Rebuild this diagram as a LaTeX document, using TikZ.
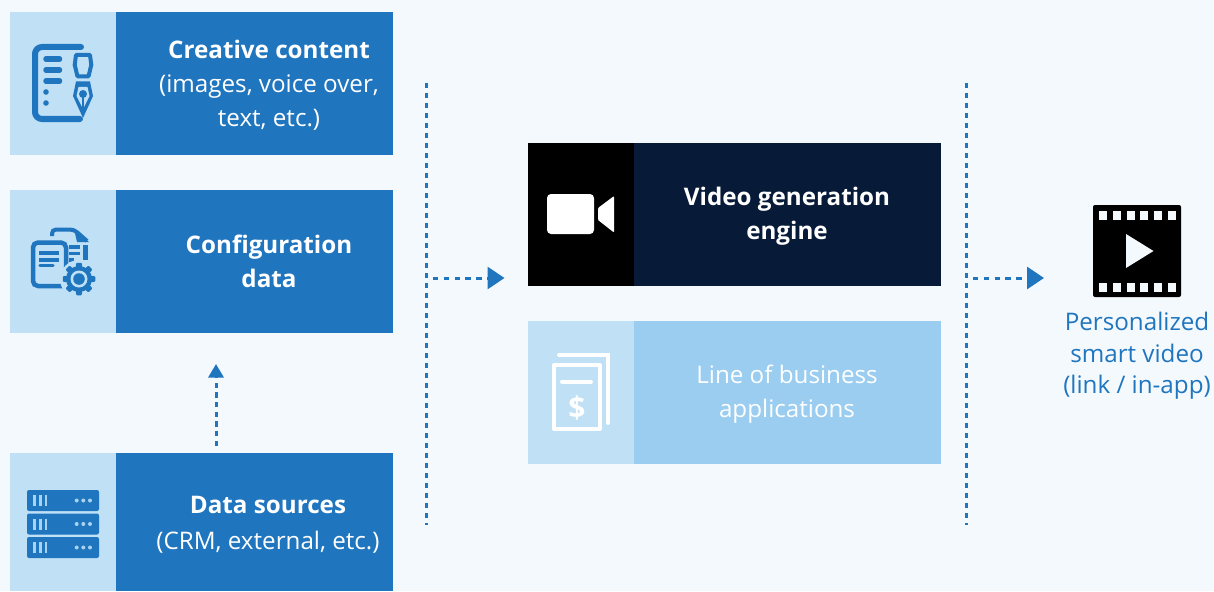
\documentclass[tikz,border=0pt]{standalone}
\usepackage{fontspec}
\setmainfont{Open Sans}
\usetikzlibrary{arrows.meta,calc}
\definecolor{pagebg}{HTML}{F4F9FE}
\definecolor{mainblue}{HTML}{1F75BE}
\definecolor{paleblue}{HTML}{C0E0F6}
\definecolor{midblue}{HTML}{9ACDF0}
\definecolor{navy}{HTML}{071A38}
\definecolor{rackline}{HTML}{A8D3F0}
\tikzset{
  panel/.style={anchor=north west,inner sep=0pt,outer sep=0pt},
  label/.style={align=center,font=\fontsize{24.2}{34}\selectfont,inner sep=0pt,text=white},
  dotline/.style={mainblue,line width=3pt,dash pattern=on 5.2pt off 4.8pt},
  dotarrow/.style={mainblue,line width=3pt,dash pattern=on 5.4pt off 5.4pt,-{Triangle[length=17pt,width=22pt]}},
  dotarrowsmall/.style={mainblue,line width=3pt,dash pattern=on 5.2pt off 4.5pt,-{Triangle[length=13.5pt,width=15pt]}},
  stroke/.style={mainblue,line width=5.5pt,line cap=round},
  whitestroke/.style={white,line width=4pt,line cap=round},
}
\newcommand{\panelpair}[7]{%
  \node[panel,fill=#5,minimum width=106pt,minimum height=#4pt] (#1a) at (#2,#3) {};
  \node[panel,fill=#6,minimum width=#7pt,minimum height=#4pt] (#1b) at (#1a.north east) {};
}
\begin{document}
\begin{tikzpicture}[x=1pt,y=-1pt]
\useasboundingbox (0,0) rectangle (1214,591);
\fill[pagebg] (0,0) rectangle (1214,591);

\panelpair{cc}{10}{12}{143}{paleblue}{mainblue}{277}
\panelpair{cf}{10}{190}{143}{paleblue}{mainblue}{277}
\panelpair{ds}{10}{453}{138}{paleblue}{mainblue}{277}
\panelpair{vg}{528}{143}{143}{black}{navy}{307}
\panelpair{lb}{528}{321}{143}{paleblue}{midblue}{307}

% labels
\node[label] (cct) at (269,85) {\textbf{Creative content}\\(images, voice over,\\text, etc.)};
\node[label] (cft) at (269,261) {\textbf{Configuration}\\\textbf{data}};
\node[label] (dst) at (268,525) {\textbf{Data sources}\\[2pt](CRM, external, etc.)};
\node[label] (vgt) at (787,216.5) {\textbf{Video generation}\\\textbf{engine}};
\node[label] (lbt) at (787,394.5) {Line of business\\applications};
\node[label,text=mainblue,font=\fontsize{24.2}{31.5}\selectfont] (pv) at (1137,356) {Personalized\\smart video\\(link / in-app)};

% connectors
\coordinate (v1t) at (426.5,83);
\coordinate (v1b) at (426.5,525);
\coordinate (v2t) at (966.5,83);
\coordinate (v2b) at (966.5,525);
\coordinate (a1s) at (433,278);
\coordinate (a1e) at (504.5,278);
\coordinate (a2s) at (973,278);
\coordinate (a2e) at (1044,278);
\coordinate (a3s) at (216,446);
\coordinate (a3e) at (216,364);
\draw[dotline] (v1t) -- (v1b);
\draw[dotline] (v2t) -- (v2b);
\draw[dotarrow] (a1s) -- (a1e);
\draw[dotarrow] (a2s) -- (a2e);
\draw[dotarrowsmall] (a3s) -- (a3e);

% icon: document and pen
\draw[mainblue,line width=6pt,line cap=round,rounded corners=7pt] (81,47) -- (35,47) -- (35,119) -- (80,119);
\draw[stroke] (46,59) -- (59.5,59);
\draw[stroke] (46,70) -- (59.5,70);
\draw[stroke] (46,81) -- (59.5,81);
\fill[mainblue] (46,92) circle (2.8) (46,103) circle (2.8);
\draw[mainblue,line width=4pt,line join=round] (76,55) -- (90,55) -- (91.3,65) -- (88.5,76.3) -- (77.5,76.3) -- (74.7,65) -- cycle;
\fill[mainblue] (76,81.5) -- (90,81.5) -- (93,96) -- (83,118) -- (73,96) -- cycle;
\fill[paleblue] (78.5,87) -- (87.5,87) -- (89.5,96) -- (83,109) -- (76.5,96) -- cycle;
\fill[mainblue] (83,94) circle (4);
\draw[mainblue,line width=1.8pt] (83,94) -- (83,112);

% icon: documents and gear
\draw[mainblue,line width=4pt,rounded corners=4pt] (52,236) -- (52,229.5) -- (74,229.5) -- (87,241);
\fill[mainblue] (74,229) -- (89,242) -- (77,242) -- cycle;
\draw[mainblue,line width=4.5pt,rounded corners=5pt] (66,290) -- (66,242.5) -- (33,242.5) -- (33,286) -- (66,286);
\draw[mainblue,line width=3.5pt] (39,253) -- (59,253) (39,260) -- (59,260);
\draw[mainblue,line width=3.5pt,line cap=round] (40,265.5) -- (53,265.5);
\draw[mainblue,line width=3.5pt] (69,247) -- (80,247) (69,253.5) -- (80,253.5) (69,260) -- (74,260);
\draw[mainblue,line width=4.5pt] (85.5,245) -- (85.5,260);
\fill[paleblue] (79,279) circle (19);
\foreach \a in {0,45,...,315}{
  \fill[mainblue,shift={(79,279)},rounded corners=1pt] (\a-17:11) -- (\a-10:16.5) -- (\a+10:16.5) -- (\a+17:11) -- cycle;
}
\fill[mainblue] (79,279) circle (13);
\fill[paleblue] (79,279) circle (8.5);
\fill[mainblue] (79,279) circle (5.8);

% icon: server rack
\foreach \yy in {490,513.5,537}{
  \fill[mainblue,rounded corners=2pt] (27,\yy) rectangle (99,\yy+21);
  \foreach \xx in {34.7,40.3,46}{\draw[rackline,line width=2.5pt] (\xx,\yy+5) -- (\xx,\yy+16);}
  \foreach \xx in {76.7,83.3,90}{\fill[rackline] (\xx,\yy+10.5) circle (2);}
}

% icon: camera
\fill[white,rounded corners=4pt] (547,194) rectangle (594,234);
\fill[white,rounded corners=1pt] (598,208) -- (614,196) -- (614,232.5) -- (598,220) -- cycle;

% icon: bill
\draw[whitestroke,line join=round] (554,365) rectangle (599.5,429);
\draw[whitestroke] (559,355) -- (608,355) -- (608,423);
\draw[whitestroke] (562,381.5) -- (591,381.5);
\node[inner sep=0pt,text=white,font=\bfseries\fontsize{30}{30}\selectfont] (bill) at (577,408) {\$};

% icon: film
\fill[black,rounded corners=2pt] (1093,205) rectangle (1181,297);
\foreach \xx in {1103,1117,1130.5,1144,1158,1171.5}{
  \fill[pagebg] (\xx-4,211) rectangle (\xx+4,219.5);
  \fill[pagebg] (\xx-4,283) rectangle (\xx+4,291.5);
}
\fill[pagebg] (1126,234) -- (1153.5,251) -- (1126,268) -- cycle;
\end{tikzpicture}
\end{document}
